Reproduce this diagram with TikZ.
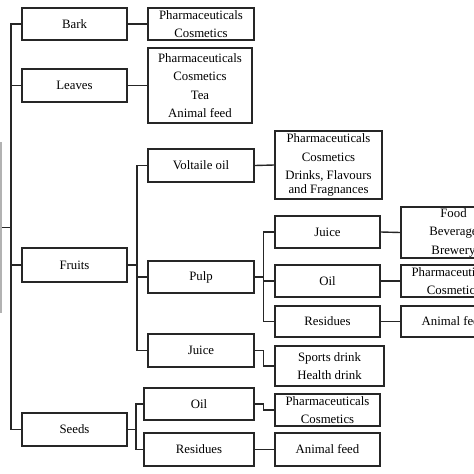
\documentclass[tikz,border=0pt]{standalone}
\usepackage{fontspec}
\setmainfont{Liberation Serif}
\usetikzlibrary{positioning}

\tikzset{
    box/.style={draw=black!85, line width=1.5pt, align=center, inner sep=0pt,
        font=\fontsize{12.8}{18.5}\selectfont},
    wire/.style={draw=black!85, line width=1.4pt}
}

\begin{document}
\begin{tikzpicture}[x=1pt, y=-1pt]

    % Fix the page to the size of the picture
    \useasboundingbox (0,0) rectangle (474,474);

    % Edge of the root box, cut off at the left
    \node[draw=gray!60, line width=1.6pt, minimum width=20pt, minimum height=169pt] (root) at (-9,227.5) {};

    % Plant parts
    \node[box, minimum width=105pt, minimum height=32pt] (bark) at (74.5,24) {Bark};
    \node[box, minimum width=105pt, minimum height=33pt] (leaves) at (74.5,85.5) {Leaves};
    \node[box, minimum width=105pt, minimum height=34pt] (fruits) at (74.5,265) {Fruits};
    \node[box, minimum width=105pt, minimum height=33pt] (seeds) at (74.5,429.5) {Seeds};

    % Uses of bark and leaves
    \node[box, minimum width=106pt, minimum height=32pt] (barkuse) at (201,24) {Pharmaceuticals\\Cosmetics};
    \node[box, minimum width=104pt, minimum height=75pt] (leavesuse) at (200,85.5) {Pharmaceuticals\\Cosmetics\\Tea\\Animal feed};

    % Parts of the fruit
    \node[box, minimum width=106pt, minimum height=33pt] (voltaile) at (201,165.5) {Voltaile oil};
    \node[box, minimum width=106pt, minimum height=32pt] (pulp) at (201,277) {Pulp};
    \node[box, minimum width=106pt, minimum height=33pt] (fjuice) at (201,350.5) {Juice};
    \node[box, minimum width=107pt, minimum height=68pt] (voltuse) at (328.5,165) {Pharmaceuticals\\Cosmetics\\Drinks, Flavours\\[-4.5pt]and Fragnances};

    % Products of the pulp
    \node[box, minimum width=105pt, minimum height=32pt] (pjuice) at (327.5,232) {Juice};
    \node[box, minimum width=105pt, minimum height=32pt] (poil) at (327.5,281) {Oil};
    \node[box, minimum width=105pt, minimum height=31pt] (pres) at (327.5,321.5) {Residues};
    \node[box, minimum width=105pt, minimum height=51pt] (pjuiceuse) at (453.5,232.5) {Food\\Beverage\\Brewery};
    \node[box, minimum width=105pt, minimum height=32pt] (poiluse) at (453.5,281) {Pharmaceuticals\\Cosmetics};
    \node[box, minimum width=105pt, minimum height=31pt] (presuse) at (453.5,321.5) {Animal feed};
    \node[box, minimum width=109pt, minimum height=40pt] (drinks) at (329.5,366) {Sports drink\\Health drink};

    % Parts of the seed
    \node[box, minimum width=110pt, minimum height=32pt] (soil) at (199,404) {Oil};
    \node[box, minimum width=110pt, minimum height=33pt] (sres) at (199,449.5) {Residues};
    \node[box, minimum width=105pt, minimum height=32pt] (soiluse) at (327.5,410) {Pharmaceuticals\\Cosmetics};
    \node[box, minimum width=105pt, minimum height=33pt] (sresuse) at (327.5,449.5) {Animal feed};

    % Junction lines
    \coordinate (trunk) at (11,0);
    \coordinate (fj) at (137,0);
    \coordinate (pj) at (263.5,0);
    \coordinate (sj) at (136,0);

    % Main trunk
    \draw[wire] (bark.west) -| (trunk |- seeds.west) -- (seeds.west);
    \foreach \n in {root.east, leaves.west, fruits.west} {
        \draw[wire] (\n) -- (trunk |- \n);
    }

    % Bark and leaves
    \draw[wire] (bark.east) -- (barkuse.west);
    \draw[wire] (leaves.east) -- (leavesuse.west);

    % Fruits
    \draw[wire] (voltaile.west) -| (fj |- fjuice.west) -- (fjuice.west);
    \draw[wire] (pulp.west) -- (fj |- pulp.west);
    \draw[wire] (fruits.east) -- (fj |- fruits.east);
    \draw[wire] (voltaile.east) -- (voltuse.west);

    % Pulp
    \draw[wire] (pjuice.west) -| (pj |- pres.west) -- (pres.west);
    \draw[wire] (poil.west) -- (pj |- poil.west);
    \draw[wire] (pulp.east) -- (pj |- pulp.east);
    \draw[wire] (pjuice.east) -- (pjuiceuse.west);
    \draw[wire] (poil.east) -- (poiluse.west);
    \draw[wire] (pres.east) -- (presuse.west);
    \draw[wire] (fjuice.east) -- (pj |- fjuice.east) |- (drinks.west);

    % Seeds
    \draw[wire] (soil.west) -| (sj |- sres.west) -- (sres.west);
    \draw[wire] (seeds.east) -- (sj |- seeds.east);
    \draw[wire] (soil.east) -- (pj |- soil.east) |- (soiluse.west);
    \draw[wire] (sres.east) -- (sresuse.west);

\end{tikzpicture}
\end{document}
